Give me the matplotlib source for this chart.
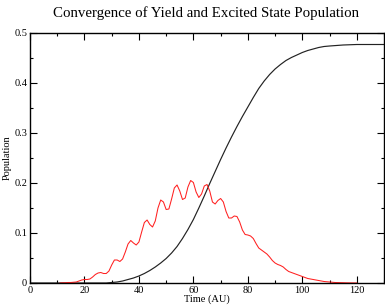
import matplotlib
matplotlib.use('Agg')
import matplotlib.pyplot as plt
from matplotlib.ticker import MultipleLocator

plt.rcParams['font.family'] = ['Liberation Serif', 'DejaVu Serif']

# excited state population (red)
t_excited = [11, 12, 13, 14, 15, 16, 17, 18, 19, 20, 21, 22, 23, 24, 25, 26, 27, 28, 29, 30,
             31, 32, 33, 34, 35, 36, 37, 38, 39, 40, 41, 42, 43, 44, 45, 46, 47, 48, 49, 50,
             51, 52, 53, 54, 55, 56, 57, 58, 59, 60, 61, 62, 63, 64, 65, 66, 67, 68, 69, 70,
             71, 72, 73, 74, 75, 76, 77, 78, 79, 80, 81, 82, 83, 84, 85, 86, 87, 88, 89, 90,
             91, 92, 93, 94, 95, 96, 97, 98, 99, 100, 102, 104, 106, 108, 110, 112, 114, 116,
             118, 120]
excited = [0.0, 0.0003, 0.0005, 0.001, 0.001, 0.0015, 0.002, 0.004, 0.006, 0.007,
           0.007, 0.008, 0.012, 0.017, 0.020, 0.021, 0.019, 0.019, 0.024, 0.036,
           0.046, 0.046, 0.043, 0.048, 0.062, 0.078, 0.085, 0.080, 0.076, 0.082,
           0.102, 0.121, 0.126, 0.117, 0.112, 0.124, 0.150, 0.166, 0.162, 0.147,
           0.148, 0.168, 0.190, 0.196, 0.184, 0.167, 0.170, 0.192, 0.205, 0.201,
           0.182, 0.171, 0.178, 0.194, 0.197, 0.184, 0.162, 0.158, 0.165, 0.169,
           0.162, 0.143, 0.130, 0.130, 0.134, 0.133, 0.122, 0.106, 0.097, 0.096,
           0.094, 0.089, 0.079, 0.070, 0.066, 0.062, 0.058, 0.052, 0.045, 0.040,
           0.037, 0.035, 0.032, 0.027, 0.023, 0.021, 0.019, 0.017, 0.015, 0.013,
           0.009, 0.007, 0.005, 0.003, 0.002, 0.001, 0.0007, 0.0004, 0.0002, 0.0001]

# yield (black)
t_yield = [0, 28, 30, 32, 34, 36, 38, 40, 42, 44, 46, 48, 50, 52, 54, 56, 58, 60, 62, 64,
           66, 68, 70, 72, 74, 76, 78, 80, 82, 84, 86, 88, 90, 92, 94, 96, 98, 100, 102,
           104, 106, 108, 110, 115, 120, 125, 130]
yield_ = [0.0, 0.0, 0.001, 0.002, 0.004, 0.007, 0.010, 0.014, 0.019, 0.025, 0.032, 0.040,
          0.049, 0.060, 0.073, 0.089, 0.107, 0.127, 0.150, 0.174, 0.199, 0.223, 0.247,
          0.270, 0.292, 0.313, 0.333, 0.352, 0.371, 0.389, 0.404, 0.417, 0.428, 0.437,
          0.445, 0.451, 0.456, 0.461, 0.465, 0.468, 0.471, 0.473, 0.474, 0.476, 0.477,
          0.477, 0.477]

fig = plt.figure(figsize=(3.85, 3.07), dpi=100)
ax = fig.add_axes([30/385, 24/307, 354/385, 250/307])

ax.plot(t_yield, yield_, color='#222222', lw=0.85)
ax.plot(t_excited, excited, color='#ff2020', lw=0.75)

ax.set_xlim(0, 130)
ax.set_ylim(0, 0.5)
ax.xaxis.set_major_locator(MultipleLocator(20))
ax.xaxis.set_minor_locator(MultipleLocator(10))
ax.yaxis.set_minor_locator(MultipleLocator(0.05))
ax.set_yticks([0, 0.1, 0.2, 0.3, 0.4, 0.5])
ax.set_yticklabels(['0', '0.1', '0.2', '0.3', '0.4', '0.5'])

ax.tick_params(which='both', direction='in', top=True, right=True, labelsize=7.5, width=0.8)
ax.tick_params(which='major', length=5, pad=2)
ax.tick_params(which='minor', length=2.5)
for s in ax.spines.values():
    s.set_linewidth(1.0)

ax.set_xlabel('Time (AU)', fontsize=7.5, labelpad=0)
ax.set_ylabel('Population', fontsize=7.5, labelpad=2)
fig.text(0.535, 1 - 13/307, 'Convergence of Yield and Excited State Population',
         ha='center', va='center', fontsize=10.7)

plt.savefig('out.png', dpi=100)
